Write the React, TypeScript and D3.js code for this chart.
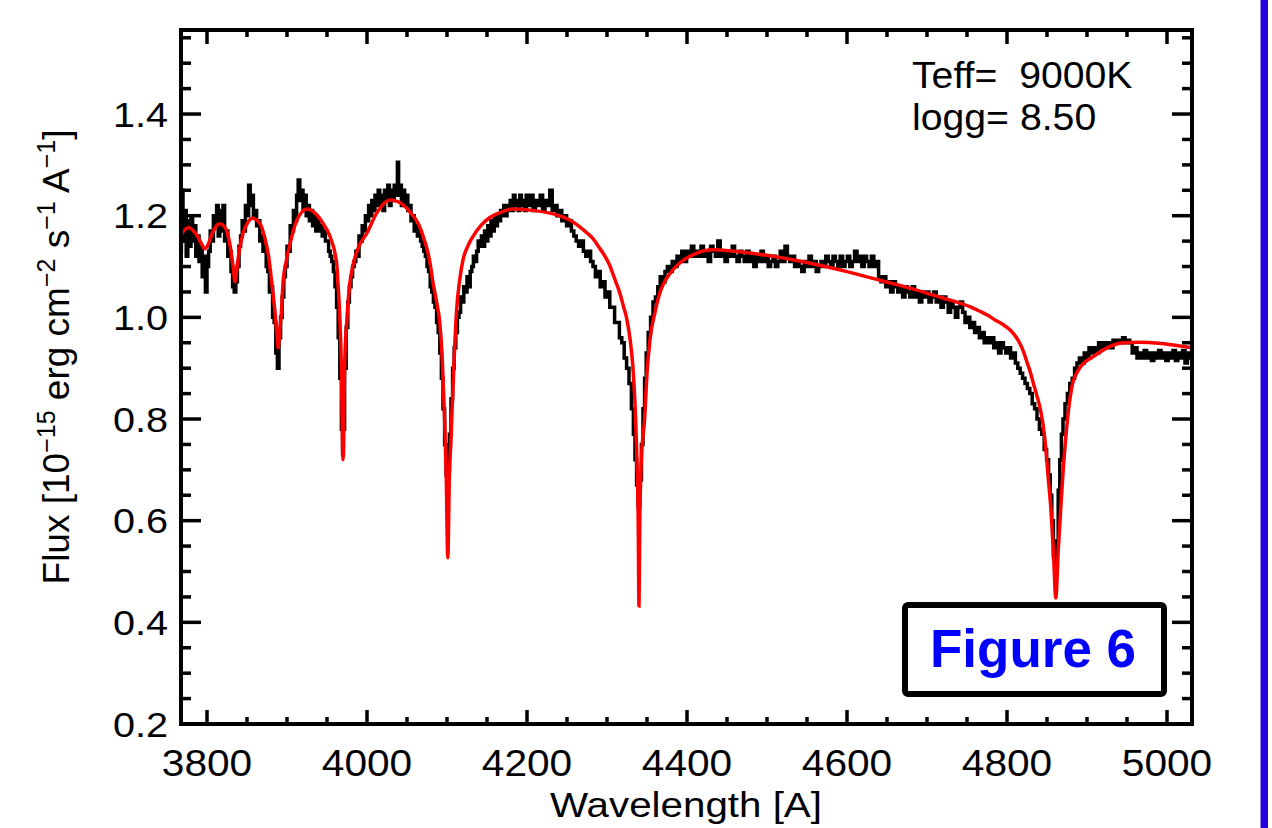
import React from "react";
import * as d3 from "d3";

// Observed spectrum: [wavelength (Å), flux]
const observed: [number, number][] = [
  [3767,1.13],[3769,1.25],[3771,1.15],[3773,1.21],[3775,1.12],[3777,1.19],[3779,1.14],[3781,1.20],[3783,1.15],[3785,1.18],
  [3787,1.12],[3789,1.16],[3791,1.11],[3793,1.14],[3795,1.08],[3797,1.12],[3799,1.05],[3801,1.10],[3803,1.13],[3805,1.17],
  [3807,1.15],[3809,1.20],[3811,1.18],[3813,1.22],[3815,1.16],[3817,1.21],[3819,1.17],[3821,1.22],[3823,1.15],[3825,1.17],
  [3827,1.12],[3829,1.13],[3831,1.09],[3833,1.06],[3835,1.05],[3837,1.07],[3839,1.10],[3841,1.14],[3843,1.16],[3845,1.19],
  [3847,1.17],[3849,1.22],[3851,1.20],[3853,1.26],[3855,1.22],[3857,1.24],[3859,1.20],[3861,1.21],[3863,1.18],[3865,1.19],
  [3867,1.15],[3869,1.16],[3871,1.13],[3873,1.14],[3875,1.10],[3877,1.09],[3879,1.05],[3881,1.06],[3883,1.00],[3885,0.99],
  [3887,0.93],[3889,0.90],[3891,0.96],[3893,1.00],[3895,1.04],[3897,1.08],[3899,1.10],[3901,1.14],[3903,1.13],[3905,1.18],
  [3907,1.17],[3909,1.21],[3911,1.19],[3913,1.24],[3915,1.27],[3917,1.23],[3919,1.25],[3921,1.21],[3923,1.24],[3925,1.20],
  [3927,1.22],[3929,1.19],[3931,1.21],[3933,1.18],[3935,1.20],[3937,1.17],[3939,1.19],[3941,1.17],[3943,1.18],[3945,1.16],
  [3947,1.17],[3949,1.15],[3951,1.15],[3953,1.13],[3955,1.12],[3957,1.11],[3959,1.09],[3961,1.06],[3963,1.02],[3965,0.96],
  [3967,0.88],[3969,0.78],[3970,0.73],[3971,0.78],[3973,0.90],[3975,0.98],[3977,1.03],[3979,1.06],[3981,1.08],[3983,1.10],
  [3985,1.11],[3987,1.13],[3989,1.12],[3991,1.16],[3993,1.15],[3995,1.18],[3997,1.17],[3999,1.20],[4001,1.19],[4003,1.22],
  [4005,1.20],[4007,1.23],[4009,1.21],[4011,1.24],[4013,1.22],[4015,1.25],[4017,1.22],[4019,1.24],[4021,1.21],[4023,1.25],
  [4025,1.23],[4027,1.26],[4029,1.22],[4031,1.25],[4033,1.23],[4035,1.26],[4037,1.24],[4039,1.305],[4040,1.24],[4042,1.26],
  [4044,1.22],[4046,1.25],[4048,1.22],[4050,1.24],[4052,1.21],[4054,1.22],[4056,1.19],[4058,1.20],[4060,1.17],[4062,1.18],
  [4064,1.16],[4066,1.17],[4068,1.15],[4070,1.14],[4072,1.13],[4074,1.12],[4076,1.10],[4078,1.09],[4080,1.06],[4082,1.05],
  [4084,1.03],[4086,1.02],[4088,0.99],[4090,0.97],[4092,0.93],[4094,0.88],[4096,0.82],[4098,0.75],[4100,0.69],[4101,0.67],
  [4102,0.70],[4104,0.77],[4106,0.84],[4108,0.90],[4110,0.94],[4112,0.97],[4114,1.00],[4116,1.01],[4118,1.04],[4120,1.03],
  [4122,1.06],[4124,1.05],[4126,1.08],[4128,1.06],[4130,1.09],[4132,1.10],[4134,1.12],[4136,1.11],[4138,1.13],[4140,1.15],
  [4142,1.14],[4144,1.16],[4146,1.14],[4148,1.17],[4150,1.15],[4152,1.18],[4154,1.16],[4156,1.19],[4158,1.17],[4160,1.20],
  [4162,1.18],[4164,1.20],[4166,1.19],[4168,1.21],[4170,1.20],[4172,1.22],[4174,1.20],[4176,1.22],[4178,1.21],[4180,1.23],
  [4182,1.21],[4184,1.24],[4186,1.22],[4188,1.23],[4190,1.21],[4192,1.24],[4194,1.22],[4196,1.23],[4198,1.21],[4200,1.24],
  [4203,1.22],[4206,1.24],[4209,1.21],[4212,1.23],[4215,1.22],[4218,1.24],[4221,1.21],[4224,1.23],[4227,1.22],[4230,1.25],
  [4233,1.21],[4236,1.22],[4239,1.20],[4242,1.21],[4245,1.19],[4248,1.20],[4251,1.18],[4254,1.19],[4257,1.17],[4260,1.16],
  [4263,1.15],[4266,1.14],[4269,1.15],[4272,1.13],[4275,1.12],[4278,1.13],[4281,1.11],[4284,1.10],[4287,1.08],[4290,1.09],
  [4293,1.06],[4296,1.07],[4299,1.04],[4302,1.05],[4305,1.02],[4308,1.02],[4311,0.99],[4314,0.99],[4317,0.96],[4320,0.95],
  [4323,0.92],[4326,0.90],[4329,0.87],[4332,0.82],[4334,0.77],[4336,0.72],[4338,0.67],[4340,0.63],[4342,0.68],[4344,0.75],
  [4346,0.82],[4348,0.88],[4350,0.93],[4353,0.97],[4356,1.00],[4359,1.03],[4362,1.04],[4365,1.06],[4368,1.08],[4371,1.07],
  [4374,1.09],[4377,1.10],[4380,1.09],[4383,1.11],[4386,1.10],[4389,1.12],[4392,1.11],[4395,1.13],[4398,1.11],[4401,1.13],
  [4404,1.12],[4407,1.14],[4410,1.12],[4413,1.13],[4416,1.12],[4419,1.14],[4422,1.12],[4425,1.13],[4428,1.11],[4431,1.14],
  [4434,1.13],[4437,1.12],[4440,1.15],[4443,1.12],[4446,1.13],[4449,1.11],[4452,1.13],[4455,1.12],[4458,1.14],[4461,1.12],
  [4464,1.11],[4467,1.13],[4470,1.12],[4473,1.11],[4476,1.13],[4479,1.11],[4482,1.12],[4485,1.10],[4488,1.12],[4491,1.11],
  [4494,1.13],[4497,1.11],[4500,1.12],[4503,1.10],[4506,1.11],[4509,1.12],[4512,1.10],[4515,1.11],[4518,1.13],[4521,1.11],
  [4524,1.14],[4527,1.12],[4530,1.11],[4533,1.12],[4536,1.10],[4539,1.11],[4542,1.10],[4545,1.09],[4548,1.11],[4551,1.10],
  [4554,1.12],[4557,1.10],[4560,1.11],[4563,1.09],[4566,1.10],[4569,1.11],[4572,1.10],[4575,1.12],[4578,1.11],[4581,1.10],
  [4584,1.12],[4587,1.11],[4590,1.10],[4593,1.12],[4596,1.10],[4599,1.11],[4602,1.12],[4605,1.10],[4608,1.11],[4611,1.13],
  [4614,1.11],[4617,1.12],[4620,1.10],[4623,1.12],[4626,1.11],[4629,1.10],[4632,1.12],[4635,1.10],[4638,1.11],[4641,1.08],
  [4644,1.07],[4647,1.08],[4650,1.06],[4653,1.07],[4656,1.05],[4659,1.07],[4662,1.06],[4665,1.05],[4668,1.06],[4671,1.04],
  [4674,1.06],[4677,1.05],[4680,1.04],[4683,1.06],[4686,1.04],[4689,1.05],[4692,1.03],[4695,1.05],[4698,1.04],[4701,1.05],
  [4704,1.03],[4707,1.04],[4710,1.05],[4713,1.03],[4716,1.04],[4719,1.02],[4722,1.04],[4725,1.03],[4728,1.01],[4731,1.03],
  [4734,1.02],[4737,1.00],[4740,1.02],[4743,1.03],[4746,1.01],[4749,0.99],[4752,1.00],[4755,0.98],[4758,0.99],[4761,0.97],
  [4764,0.98],[4767,0.96],[4770,0.97],[4773,0.95],[4776,0.96],[4779,0.95],[4782,0.96],[4785,0.94],[4788,0.95],[4791,0.93],
  [4794,0.95],[4797,0.94],[4800,0.93],[4803,0.94],[4806,0.92],[4809,0.93],[4812,0.91],[4815,0.90],[4818,0.89],[4821,0.88],
  [4824,0.87],[4827,0.86],[4830,0.85],[4833,0.83],[4836,0.82],[4839,0.80],[4842,0.78],[4845,0.77],[4848,0.74],[4851,0.72],
  [4853,0.69],[4855,0.65],[4857,0.60],[4859,0.53],[4861,0.49],[4863,0.56],[4865,0.66],[4867,0.72],[4869,0.77],[4871,0.80],
  [4874,0.83],[4877,0.85],[4880,0.87],[4883,0.88],[4886,0.90],[4889,0.91],[4892,0.92],[4895,0.91],[4898,0.93],[4901,0.92],
  [4904,0.94],[4907,0.93],[4910,0.94],[4913,0.93],[4916,0.95],[4919,0.94],[4922,0.95],[4925,0.94],[4928,0.95],[4931,0.94],
  [4934,0.955],[4937,0.95],[4940,0.955],[4943,0.95],[4946,0.96],[4949,0.95],[4952,0.955],[4955,0.95],[4958,0.93],[4961,0.94],
  [4964,0.92],[4967,0.93],[4970,0.92],[4973,0.935],[4976,0.92],[4979,0.93],[4982,0.915],[4985,0.93],[4988,0.92],[4991,0.935],
  [4994,0.92],[4997,0.93],[5000,0.915],[5003,0.93],[5006,0.92],[5009,0.935],[5012,0.915],[5015,0.93],[5018,0.92],[5021,0.935],
  [5024,0.91],[5027,0.93],[5030,0.92],[5032,0.935],
];

// Model spectrum: [wavelength (Å), flux]
const model: [number, number][] = [
  [3767,1.160],[3772,1.172],[3777,1.177],[3782,1.172],[3788,1.160],[3793,1.145],[3797,1.135],[3801,1.142],[3806,1.163],
  [3811,1.178],[3816,1.184],[3821,1.180],[3826,1.163],[3830,1.130],[3833,1.095],[3835,1.070],[3837,1.092],[3840,1.128],
  [3845,1.165],[3851,1.187],[3857,1.195],[3866,1.185],[3872,1.158],[3877,1.120],[3881,1.068],[3885,1.010],[3887,0.975],
  [3889,0.940],[3891,0.975],[3893,1.010],[3895,1.068],[3899,1.110],[3904,1.146],[3912,1.190],[3925,1.213],[3935,1.205],
  [3945,1.185],[3954,1.158],[3962,1.107],[3964,1.060],[3966,1.000],[3968,0.900],[3970,0.720],[3972,0.900],[3975,1.000],
  [3978,1.060],[3982,1.099],[3990,1.140],[4000,1.166],[4012,1.205],[4029,1.231],[4041,1.226],[4055,1.205],[4062,1.190],
  [4066,1.178],[4070,1.160],[4075,1.135],[4079,1.105],[4082,1.073],[4087,1.030],[4091,0.989],[4094,0.920],[4097,0.800],
  [4099,0.690],[4101,0.527],[4103,0.690],[4105,0.760],[4106,0.804],[4109,0.920],[4112,1.014],[4116,1.075],[4120,1.113],
  [4126,1.140],[4132,1.158],[4142,1.180],[4154,1.197],[4168,1.207],[4182,1.213],[4210,1.210],[4240,1.200],[4255,1.190],
  [4266,1.178],[4275,1.166],[4282,1.156],[4290,1.138],[4296,1.124],[4300,1.113],[4304,1.100],[4307,1.087],[4311,1.070],
  [4316,1.048],[4320,1.025],[4325,0.995],[4329,0.955],[4332,0.910],[4335,0.830],[4337,0.740],[4339,0.600],[4340,0.432],
  [4341,0.600],[4343,0.720],[4347,0.800],[4350,0.890],[4354,0.960],[4360,1.010],[4366,1.048],[4372,1.070],[4378,1.085],
  [4391,1.107],[4410,1.125],[4432,1.133],[4460,1.130],[4500,1.122],[4550,1.108],[4600,1.090],[4641,1.073],[4680,1.057],
  [4720,1.038],[4741,1.028],[4755,1.020],[4766,1.012],[4776,1.004],[4785,0.995],[4795,0.986],[4804,0.975],[4810,0.964],
  [4815,0.952],[4820,0.935],[4825,0.912],[4829,0.893],[4833,0.870],[4837,0.848],[4841,0.824],[4844,0.800],[4847,0.765],
  [4849,0.735],[4851,0.694],[4855,0.620],[4858,0.540],[4861,0.448],[4864,0.540],[4867,0.620],[4870,0.694],[4875,0.790],
  [4882,0.870],[4887,0.890],[4893,0.905],[4907,0.922],[4925,0.940],[4945,0.950],[4966,0.951],[4990,0.949],[5010,0.945],
  [5032,0.940],
];

const xMajorTicks = [3800, 4000, 4200, 4400, 4600, 4800, 5000];
const xMinorTicks = [3800, 3850, 3900, 3950, 4000, 4050, 4100, 4150, 4200, 4250, 4300, 4350, 4400, 4450, 4500, 4550, 4600, 4650, 4700, 4750, 4800, 4850, 4900, 4950, 5000];
const yMajorTicks = [0.2, 0.4, 0.6, 0.8, 1.0, 1.2, 1.4];
const yMinorTicks = [0.2, 0.25, 0.3, 0.35, 0.4, 0.45, 0.5, 0.55, 0.6, 0.65, 0.7, 0.75, 0.8, 0.85, 0.9, 0.95, 1.0, 1.05, 1.1, 1.15, 1.2, 1.25, 1.3, 1.35, 1.4, 1.45, 1.5, 1.55];
const annotationLines = ["Teff=  9000K", "logg= 8.50"];

const W = 1272, H = 828;
const L = 181, R = 1192, T = 30, B = 724;
const FONT = "'Liberation Sans', Arial, Helvetica, sans-serif";

export default function App() {
  const x = d3.scaleLinear().domain([3767.5, 5031.25]).range([L, R]);
  const y = d3.scaleLinear().domain([0.2, 0.2 + (B - T) / 508.3]).range([B, T]);

  const obsLine = d3.line<[number, number]>().x(d => x(d[0])).y(d => y(d[1])).curve(d3.curveStep);
  const modLine = d3.line<[number, number]>().x(d => x(d[0])).y(d => y(d[1])).curve(d3.curveMonotoneX);

  return (
    <svg width={W} height={H} style={{ position: "absolute", left: 0, top: 0, background: "#fff" }}>
      <rect x={0} y={0} width={W} height={H} fill="#fff" />
      <defs>
        <clipPath id="plot"><rect x={L} y={T} width={R - L} height={B - T} /></clipPath>
      </defs>
      <g clipPath="url(#plot)">
        <path d={obsLine(observed) || ""} fill="none" stroke="#000" strokeWidth={3.5} strokeLinejoin="miter" />
        <path d={modLine(model) || ""} fill="none" stroke="#ff0000" strokeWidth={3.5} />
      </g>

      {/* ticks */}
      <g stroke="#000" strokeWidth={3.5}>
        {xMinorTicks.map(v => {
          const len = xMajorTicks.includes(v) ? 14 : 7;
          return (
            <g key={"xt" + v}>
              <line x1={x(v)} x2={x(v)} y1={B} y2={B - len} />
              <line x1={x(v)} x2={x(v)} y1={T} y2={T + len} />
            </g>
          );
        })}
        {yMinorTicks.map(v => {
          const len = yMajorTicks.some(m => Math.abs(m - v) < 1e-6) ? 20 : 10;
          return (
            <g key={"yt" + v}>
              <line x1={L} x2={L + len} y1={y(v)} y2={y(v)} />
              <line x1={R} x2={R - len} y1={y(v)} y2={y(v)} />
            </g>
          );
        })}
      </g>
      <rect x={L} y={T} width={R - L} height={B - T} fill="none" stroke="#000" strokeWidth={4} />

      {/* tick labels */}
      <g fontFamily={FONT} fontSize={36} fill="#000">
        {xMajorTicks.map(v => (
          <text key={"xl" + v} transform={`translate(${x(v)},776) scale(1.13,1)`} textAnchor="middle">{v}</text>
        ))}
        {yMajorTicks.map(v => (
          <text key={"yl" + v} transform={`translate(168,${y(v) + 12.5}) scale(1.1,1)`} textAnchor="end">{v.toFixed(1)}</text>
        ))}
      </g>

      {/* axis titles */}
      <text transform="translate(686,817) scale(1.12,1)" textAnchor="middle" fontFamily={FONT} fontSize={36} fill="#000">Wavelength [A]</text>
      <text transform="translate(69,357) rotate(-90)" textAnchor="middle" fontFamily={FONT} fontSize={37} fill="#000">
        Flux [10<tspan fontSize={25} dy={-14}>−15</tspan>
        <tspan dy={14}> erg cm</tspan><tspan fontSize={25} dy={-14}>−2</tspan>
        <tspan dy={14}> s</tspan><tspan fontSize={25} dy={-14}>−1</tspan>
        <tspan dy={14}> A</tspan><tspan fontSize={25} dy={-14}>−1</tspan>
        <tspan dy={14}>]</tspan>
      </text>

      {/* annotation */}
      <g fontFamily={FONT} fontSize={37} fill="#000">
        {annotationLines.map((s, i) => (
          <text key={s} transform={`translate(912,${88 + i * 42}) scale(1.06,1)`} style={{ whiteSpace: "pre" }}>{s}</text>
        ))}
      </g>

      {/* Figure label box */}
      <rect x={905} y={605} width={259} height={89} rx={3} fill="#fff" stroke="#000" strokeWidth={6} />
      <text x={1033} y={667} textAnchor="middle" fontFamily={FONT} fontWeight="bold" fontSize={53} fill="#0000ff">Figure 6</text>

      {/* blue side bar */}
      <rect x={1260} y={0} width={1} height={H} fill="#9a88ff" />
      <rect x={1261} y={0} width={7} height={H} fill="#2200dd" />
    </svg>
  );
}
